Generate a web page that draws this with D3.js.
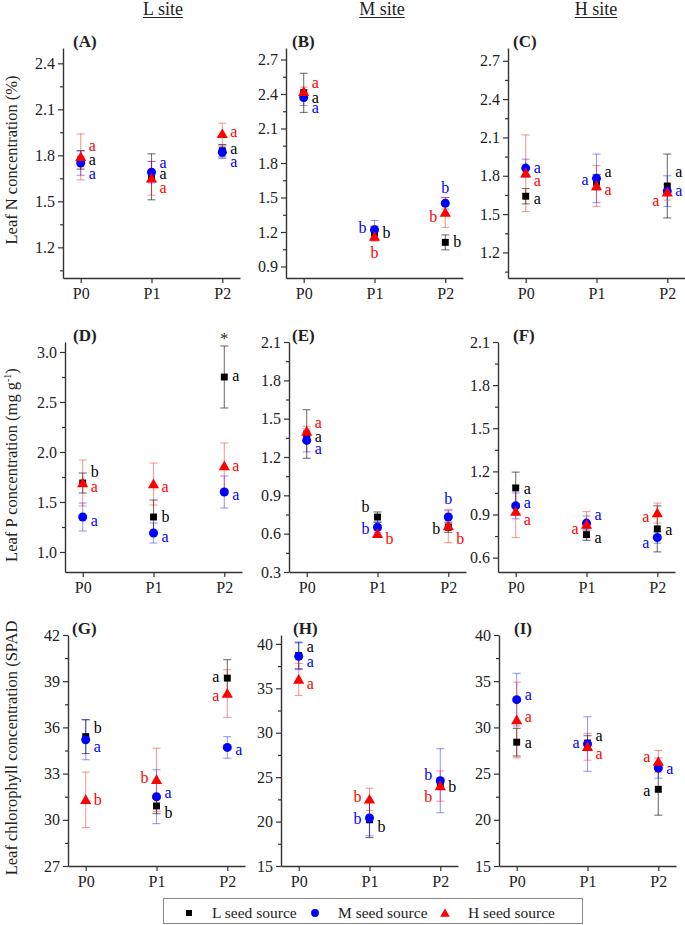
<!DOCTYPE html>
<html lang="en">
<head>
<meta charset="UTF-8">
<title>Leaf N, P and chlorophyll by seed source</title>
<style>
  body { margin: 0; background: #fff; }
  svg text { font-family: "Liberation Serif", "Times New Roman", Times, serif; fill: #222; }
</style>
</head>
<body>
<div id="chart"></div>
<script src="https://cdn.jsdelivr.net/npm/d3@7/dist/d3.min.js"></script>
<script>
// categories
const periods = ["P0", "P1", "P2"];
const seeds = ["L seed source", "M seed source", "H seed source"];
const sites = ["L site", "M site", "H site"];
const rowTitles = ["Leaf N concentration (%)", "Leaf P concentration (mg g", "Leaf chlorophyll concentration (SPAD"];

// means: [L seed, M seed, H seed] x [P0, P1, P2]
const meanA = [[1.77, 1.66, 1.83], [1.75, 1.69, 1.82], [1.79, 1.65, 1.94]];
const errA  = [[0.06, 0.15, 0.04], [0.08, 0.07, 0.04], [0.15, 0.11, 0.07]];
const meanB = [[2.41, 1.19, 1.11], [2.37, 1.22, 1.45], [2.42, 1.16, 1.37]];
const errB  = [[0.17, 0.06, 0.065], [0.07, 0.08, 0.05], [0.04, 0.04, 0.13]];
const meanC = [[1.64, 1.75, 1.72], [1.86, 1.78, 1.68], [1.82, 1.72, 1.67]];
const errC  = [[0.06, 0.06, 0.25], [0.07, 0.19, 0.12], [0.30, 0.16, 0.06]];
const meanD = [[1.69, 1.35, 2.75], [1.35, 1.19, 1.60], [1.69, 1.68, 1.86]];
const errD  = [[0.10, 0.17, 0.31], [0.14, 0.10, 0.16], [0.23, 0.21, 0.23]];
const meanE = [[1.38, 0.73, 0.65], [1.33, 0.65, 0.73], [1.40, 0.60, 0.66]];
const errE  = [[0.19, 0.04, 0.04], [0.09, 0.04, 0.05], [0.04, 0.03, 0.13]];
const meanF = [[1.085, 0.76, 0.80], [0.96, 0.84, 0.74], [0.92, 0.83, 0.91]];
const errF  = [[0.11, 0.04, 0.16], [0.09, 0.05, 0.04], [0.18, 0.09, 0.07]];
const meanG = [[35.4, 30.9, 39.2], [35.2, 31.5, 34.7], [31.3, 32.6, 38.2]];
const errG  = [[1.1, 0.5, 1.2], [1.3, 1.75, 0.7], [1.8, 2.05, 1.55]];
const meanH = [[38.7, 20.2, 24.3], [38.6, 20.4, 24.6], [36.0, 22.5, 24.0]];
const errH  = [[1.5, 2.0, 0.6], [1.5, 2.0, 3.6], [1.8, 1.25, 1.7]];
const meanI = [[28.4, 28.3, 23.3], [33.0, 28.2, 25.6], [30.8, 27.9, 26.3]];
const errI  = [[1.5, 0.8, 2.8], [2.85, 2.95, 1.1], [4.1, 1.45, 1.2]];

// significance letters: [letter, value where it sits, side r/l/c]
const letA = [[["a",1.77,"r"],["a",1.68,"r"],["a",1.84,"r"]], [["a",1.68,"r"],["a",1.75,"r"],["a",1.76,"r"]], [["a",1.86,"r"],["a",1.59,"r"],["a",1.95,"r"]]];
const letB = [[["a",2.37,"r"],["b",1.19,"r"],["b",1.11,"r"]], [["a",2.28,"r"],["b",1.24,"l"],["b",1.58,"c"]], [["a",2.50,"r"],["b",1.02,"c"],["b",1.33,"l"]]];
const letC = [[["a",1.62,"r"],["a",1.83,"r"],["a",1.83,"r"]], [["a",1.86,"r"],["a",1.77,"l"],["a",1.68,"r"]], [["a",1.76,"r"],["a",1.69,"r"],["a",1.60,"l"]]];
const letD = [[["b",1.80,"r"],["b",1.35,"r"],["a",2.76,"r"]], [["a",1.31,"r"],["a",1.15,"r"],["a",1.57,"r"]], [["a",1.65,"r"],["a",1.65,"r"],["a",1.86,"r"]]];
const letE = [[["a",1.36,"r"],["b",0.81,"l"],["b",0.64,"l"]], [["a",1.26,"r"],["b",0.64,"l"],["b",0.87,"c"]], [["a",1.47,"r"],["b",0.56,"r"],["b",0.56,"r"]]];
const letF = [[["a",1.08,"r"],["a",0.74,"r"],["a",0.79,"r"]], [["a",0.98,"r"],["a",0.90,"r"],["a",0.70,"l"]], [["a",0.86,"r"],["a",0.80,"l"],["a",0.88,"l"]]];
const letG = [[["b",35.96,"r"],["b",30.44,"r"],["a",39.27,"l"]], [["a",34.73,"r"],["a",31.74,"r"],["a",34.53,"r"]], [["b",31.29,"r"],["b",32.71,"l"],["a",38.04,"l"]]];
const letH = [[["a",39.65,"r"],["b",19.39,"r"],["b",23.89,"r"]], [["a",37.96,"r"],["b",20.29,"l"],["b",25.24,"l"]], [["a",35.49,"r"],["b",22.77,"l"],["b",22.77,"l"]]];
const letI = [[["a",28.31,"r"],["a",29.07,"r"],["a",23.12,"l"]], [["a",33.5,"r"],["a",28.31,"l"],["a",25.5,"r"]], [["a",31.13,"r"],["a",27.12,"r"],["a",26.8,"l"]]];
const starD = ["*", 2, 3.17]; // seed L, P2

const colors = ["#000000", "#0000ff", "#ff0000"];
const symbols = [d3.symbolSquare, d3.symbolCircle, d3.symbolTriangle];
const symSize = [48, 64, 54];

const W = 685, H = 925;
const rows = [{ top: 48, bottom: 278 }, { top: 342, bottom: 572 }, { top: 635, bottom: 866 }];

const panels = [
  { id: "A", row: 0, x0: 63,  dom: [1.0, 2.5], step: 0.3, start: 1.2, fmt: ".1f", mean: meanA, err: errA, lets: letA, lx: 10 },
  { id: "B", row: 0, x0: 286, dom: [0.8, 2.8], step: 0.3, start: 0.9, fmt: ".1f", mean: meanB, err: errB, lets: letB, lx: 6 },
  { id: "C", row: 0, x0: 508, dom: [1.0, 2.8], step: 0.3, start: 1.2, fmt: ".1f", mean: meanC, err: errC, lets: letC, lx: 5 },
  { id: "D", row: 1, x0: 65,  dom: [0.8, 3.1], step: 0.5, start: 1.0, fmt: ".1f", mean: meanD, err: errD, lets: letD, lx: 8 },
  { id: "E", row: 1, x0: 289, dom: [0.3, 2.1], step: 0.3, start: 0.3, fmt: ".1f", mean: meanE, err: errE, lets: letE, lx: 3 },
  { id: "F", row: 1, x0: 498, dom: [0.5, 2.1], step: 0.3, start: 0.6, fmt: ".1f", mean: meanF, err: errF, lets: letF, lx: 15 },
  { id: "G", row: 2, x0: 68,  dom: [27, 42],   step: 3,   start: 27,  fmt: "d",   mean: meanG, err: errG, lets: letG, lx: 4 },
  { id: "H", row: 2, x0: 281, dom: [15, 41],   step: 5,   start: 15,  fmt: "d",   mean: meanH, err: errH, lets: letH, lx: 12 },
  { id: "I", row: 2, x0: 499, dom: [15, 40],   step: 5,   start: 15,  fmt: "d",   mean: meanI, err: errI, lets: letI, lx: 15 }
];

const svg = d3.select("#chart").append("svg")
  .attr("width", W).attr("height", H);

// site titles, underlined
[163, 382, 596].forEach((cx, i) => {
  const t = svg.append("text")
    .attr("x", cx).attr("y", 15)
    .attr("text-anchor", "middle")
    .attr("font-size", 18)
    .text(sites[i]);
  const w = t.node().getComputedTextLength();
  svg.append("line")
    .attr("x1", cx - w / 2).attr("x2", cx + w / 2)
    .attr("y1", 17.5).attr("y2", 17.5)
    .attr("stroke", "#222").attr("stroke-width", 1);
});

// row y-axis titles
const titleY = [160, 465, 748];
titleY.forEach((cy, i) => {
  const t = svg.append("text")
    .attr("transform", `translate(17,${cy}) rotate(-90)`)
    .attr("text-anchor", "middle")
    .attr("font-size", 16.5)
    .text(rowTitles[i]);
  if (i === 1) {
    t.append("tspan").attr("font-size", 10).attr("dy", -6).text("-1");
    t.append("tspan").attr("dy", 6).text(")");
  }
});

panels.forEach(p => {
  const r = rows[p.row];
  const x = d3.scaleLinear().domain([-0.25, 2.25]).range([p.x0, p.x0 + 177]);
  const y = d3.scaleLinear().domain(p.dom).range([r.bottom, r.top]);
  const g = svg.append("g");

  const major = d3.range(p.start, p.dom[1] + 1e-6, p.step);
  const minor = d3.range(p.start - p.step / 2, p.dom[1] + 1e-6, p.step)
    .filter(v => v >= p.dom[0] - 1e-6);

  // minor ticks
  g.append("g")
    .attr("transform", `translate(${p.x0},0)`)
    .call(d3.axisLeft(y).tickValues(minor).tickSize(3).tickSizeOuter(0).tickFormat(""))
    .call(a => a.select(".domain").remove())
    .selectAll("line").attr("stroke", "#333").attr("stroke-width", 1.2);

  const yAx = g.append("g")
    .attr("transform", `translate(${p.x0},0)`)
    .call(d3.axisLeft(y).tickValues(major).tickSize(5).tickSizeOuter(0).tickPadding(3)
      .tickFormat(d3.format(p.fmt)));
  yAx.select(".domain").attr("stroke", "#333").attr("stroke-width", 1.4);
  yAx.selectAll("line").attr("stroke", "#333").attr("stroke-width", 1.2);
  yAx.selectAll("text").attr("font-size", 16).attr("fill", "#222")
    .style("font-family", '"Liberation Serif", serif');

  const xAx = g.append("g")
    .attr("transform", `translate(0,${r.bottom})`)
    .call(d3.axisBottom(x).tickValues([0, 1, 2]).tickSize(5).tickSizeOuter(0).tickPadding(5)
      .tickFormat(i => periods[i]));
  xAx.select(".domain").attr("stroke", "#333").attr("stroke-width", 1.4);
  xAx.selectAll("line").attr("stroke", "#333").attr("stroke-width", 1.2);
  xAx.selectAll("text").attr("font-size", 16).attr("fill", "#222")
    .style("font-family", '"Liberation Serif", serif');

  // panel tag
  g.append("text")
    .attr("x", p.x0 + p.lx).attr("y", r.top - 1)
    .attr("font-size", 17).attr("font-weight", "bold")
    .text(`(${p.id})`);

  // error bars, then markers, per seed source
  p.mean.forEach((vals, s) => {
    const eg = g.append("g")
      .attr("stroke", colors[s]).attr("stroke-opacity", s === 0 ? 0.55 : 0.4)
      .attr("stroke-width", 1.1);
    vals.forEach((v, k) => {
      const e = p.err[s][k];
      const cx = x(k);
      eg.append("line").attr("x1", cx).attr("x2", cx).attr("y1", y(v - e)).attr("y2", y(v + e));
      eg.append("line").attr("x1", cx - 4).attr("x2", cx + 4).attr("y1", y(v - e)).attr("y2", y(v - e));
      eg.append("line").attr("x1", cx - 4).attr("x2", cx + 4).attr("y1", y(v + e)).attr("y2", y(v + e));
    });
  });
  p.mean.forEach((vals, s) => {
    g.selectAll(null)
      .data(vals)
      .enter()
      .append("path")
      .attr("d", d3.symbol().type(symbols[s]).size(symSize[s]))
      .attr("transform", (v, k) => `translate(${x(k)},${y(v) + (s === 2 ? 1 : 0)})`)
      .attr("fill", colors[s]);
  });

  // letters
  p.lets.forEach((list, s) => {
    list.forEach((l, k) => {
      const side = l[2];
      const dx = side === "r" ? 8 : side === "l" ? -8 : 0;
      g.append("text")
        .attr("x", x(k) + dx).attr("y", y(l[1]))
        .attr("dy", "0.32em")
        .attr("text-anchor", side === "r" ? "start" : side === "l" ? "end" : "middle")
        .attr("font-size", 16)
        .style("fill", colors[s])
        .text(l[0]);
    });
  });

  if (p.id === "D") {
    g.append("text")
      .attr("x", x(starD[1])).attr("y", y(starD[2]))
      .attr("dy", "0.55em")
      .attr("text-anchor", "middle")
      .attr("font-size", 16)
      .text(starD[0]);
  }
});

// legend
const lg = svg.append("g");
lg.append("rect")
  .attr("x", 163.5).attr("y", 898.5).attr("width", 419).attr("height", 25)
  .attr("fill", "none").attr("stroke", "#888").attr("stroke-width", 1);
const legX = [189, 315, 445];
seeds.forEach((name, s) => {
  lg.append("path")
    .attr("d", d3.symbol().type(symbols[s]).size(symSize[s] * 0.75))
    .attr("transform", `translate(${legX[s]},${913 + (s === 2 ? 1 : 0)})`)
    .attr("fill", colors[s]);
  lg.append("text")
    .attr("x", legX[s] + 23).attr("y", 913)
    .attr("dy", "0.35em")
    .attr("font-size", 15.5)
    .text(name);
});
</script>
</body>
</html>
